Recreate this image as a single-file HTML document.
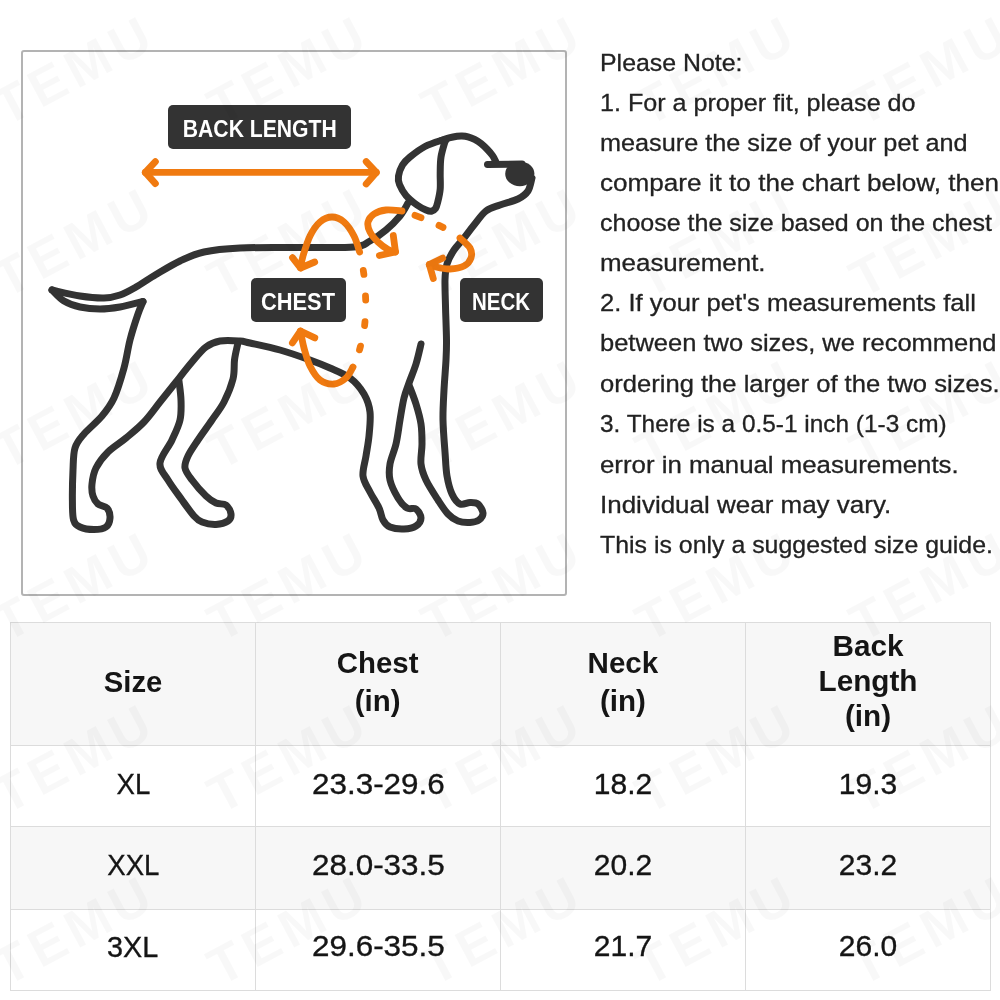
<!DOCTYPE html>
<html>
<head>
<meta charset="utf-8">
<title>Pet Size Guide</title>
<style>
html,body{margin:0;padding:0;background:#fff;}
body{width:1000px;height:1000px;position:relative;overflow:hidden;font-family:"Liberation Sans",sans-serif;color:#222;}
.wm{position:absolute;width:190px;height:54px;line-height:54px;text-align:center;font-weight:bold;font-size:53px;letter-spacing:6px;color:rgba(0,0,0,0.027);transform:rotate(-28deg);transform-origin:50% 50%;white-space:nowrap;z-index:5;pointer-events:none;}
.box{position:absolute;left:21px;top:50px;width:542px;height:542px;border:2px solid #b3b3b3;border-radius:3px;z-index:1;}
.art{position:absolute;left:0;top:0;z-index:2;}
.note{position:absolute;left:0;top:0;z-index:3;filter:grayscale(1);}
.note div{position:absolute;transform-origin:0 50%;left:599.5px;font-size:24.5px;line-height:40px;height:40px;white-space:nowrap;color:#222;-webkit-text-stroke:0.3px #222;}
table.sz{filter:grayscale(1);position:absolute;left:10px;top:622px;border-collapse:collapse;table-layout:fixed;z-index:1;}
table.sz td,table.sz th{border:1.5px solid #dcdcdc;padding:0;text-align:center;vertical-align:middle;font-size:30px;color:#151515;font-weight:normal;-webkit-text-stroke:0.35px #151515;}
table.sz th{-webkit-text-stroke:0;font-weight:bold;font-size:30px;line-height:35px;background:rgba(0,0,0,0.03);}
table.sz tr.alt td{background:rgba(0,0,0,0.03);}
table.sz span{display:inline-block;position:relative;}
</style>
</head>
<body>
<div class="wm" style="left:-20px;top:43px">TEMU</div>
<div class="wm" style="left:194px;top:43px">TEMU</div>
<div class="wm" style="left:408px;top:43px">TEMU</div>
<div class="wm" style="left:622px;top:43px">TEMU</div>
<div class="wm" style="left:836px;top:43px">TEMU</div>
<div class="wm" style="left:-20px;top:215px">TEMU</div>
<div class="wm" style="left:194px;top:215px">TEMU</div>
<div class="wm" style="left:408px;top:215px">TEMU</div>
<div class="wm" style="left:622px;top:215px">TEMU</div>
<div class="wm" style="left:836px;top:215px">TEMU</div>
<div class="wm" style="left:-20px;top:387px">TEMU</div>
<div class="wm" style="left:194px;top:387px">TEMU</div>
<div class="wm" style="left:408px;top:387px">TEMU</div>
<div class="wm" style="left:622px;top:387px">TEMU</div>
<div class="wm" style="left:836px;top:387px">TEMU</div>
<div class="wm" style="left:-20px;top:559px">TEMU</div>
<div class="wm" style="left:194px;top:559px">TEMU</div>
<div class="wm" style="left:408px;top:559px">TEMU</div>
<div class="wm" style="left:622px;top:559px">TEMU</div>
<div class="wm" style="left:836px;top:559px">TEMU</div>
<div class="wm" style="left:-20px;top:731px">TEMU</div>
<div class="wm" style="left:194px;top:731px">TEMU</div>
<div class="wm" style="left:408px;top:731px">TEMU</div>
<div class="wm" style="left:622px;top:731px">TEMU</div>
<div class="wm" style="left:836px;top:731px">TEMU</div>
<div class="wm" style="left:-20px;top:903px">TEMU</div>
<div class="wm" style="left:194px;top:903px">TEMU</div>
<div class="wm" style="left:408px;top:903px">TEMU</div>
<div class="wm" style="left:622px;top:903px">TEMU</div>
<div class="wm" style="left:836px;top:903px">TEMU</div>
<div class="box"></div>
<svg class="art" width="1000" height="1000" viewBox="0 0 1000 1000">
<g fill="none" stroke="#333333" stroke-width="7.0" stroke-linecap="round" stroke-linejoin="round">
<path d="M446.0 140.0 C445.2 140.1 444.5 139.4 441.0 140.5 C437.5 141.6 430.2 143.8 425.0 146.5 C419.8 149.2 413.8 153.9 410.0 157.0 C406.2 160.1 404.4 161.8 402.5 165.0 C400.6 168.2 399.0 172.8 398.5 176.0 C398.0 179.2 398.2 181.3 399.5 184.5 C400.8 187.7 403.1 192.0 406.0 195.4 C408.9 198.8 413.7 202.6 417.0 205.0 C420.3 207.4 423.6 209.0 426.0 210.0 C428.4 211.0 429.8 211.4 431.4 211.2 C433.0 210.9 434.4 210.1 435.5 208.5 C436.6 206.9 437.0 205.1 437.8 201.8 C438.6 198.6 439.8 193.8 440.2 189.0 C440.6 184.2 440.1 178.3 440.2 173.0 C440.3 167.7 440.2 162.2 441.0 157.0 C441.8 151.8 444.3 144.1 445.0 141.5"/>
<path d="M441.0 140.5 C442.3 140.1 446.3 138.5 449.0 137.8 C451.7 137.1 454.8 136.5 457.0 136.2 C459.2 135.9 460.2 135.8 462.0 135.9 C463.8 136.0 465.9 136.2 468.0 136.8 C470.1 137.4 472.4 138.3 474.6 139.4 C476.8 140.5 478.9 141.8 481.0 143.5 C483.1 145.2 485.5 147.5 487.4 149.5 C489.3 151.5 491.1 153.6 492.5 155.5 C493.9 157.4 495.0 160.1 495.5 161.0"/>
<path d="M532.0 178.0 C531.3 180.2 530.3 187.5 528.0 191.0 C525.7 194.5 522.7 196.7 518.0 199.0 C513.3 201.3 505.3 203.0 500.0 205.0 C494.7 207.0 490.3 207.7 486.0 211.0 C481.7 214.3 477.7 220.5 474.0 225.0 C470.3 229.5 467.3 233.8 464.0 238.0 C460.7 242.2 456.8 245.7 454.0 250.0 C451.2 254.3 448.5 259.0 447.0 264.0 C445.5 269.0 445.2 272.3 445.0 280.0 C444.8 287.7 445.4 300.0 445.6 310.0 C445.9 320.0 446.4 331.7 446.5 340.0 C446.6 348.3 446.4 351.7 446.0 360.0 C445.6 368.3 444.5 380.0 444.0 390.0 C443.5 400.0 442.8 409.7 443.0 420.0 C443.2 430.3 444.3 442.7 445.0 452.0 C445.7 461.3 445.8 469.0 447.0 476.0 C448.2 483.0 449.8 489.3 452.0 494.0 C454.2 498.7 457.0 502.6 460.0 504.0 C463.0 505.4 467.0 502.4 470.0 502.4 C473.0 502.4 475.8 502.2 478.0 504.0 C480.2 505.8 482.8 510.3 483.0 513.0 C483.2 515.7 481.2 518.4 479.0 520.0 C476.8 521.6 473.5 522.2 470.0 522.4 C466.5 522.6 461.7 522.4 458.0 521.0 C454.3 519.6 451.3 517.5 448.0 514.0 C444.7 510.5 441.7 505.7 438.0 500.0 C434.3 494.3 428.8 486.0 426.0 480.0 C423.2 474.0 421.7 470.0 421.0 464.0 C420.3 458.0 422.0 450.7 422.0 444.0 C422.0 437.3 422.0 430.7 421.0 424.0 C420.0 417.3 418.0 410.5 416.0 404.0 C414.0 397.5 410.2 388.2 409.0 385.0"/>
<path d="M421.0 344.0 C420.2 347.3 418.0 357.5 416.0 364.0 C414.0 370.5 411.0 377.3 409.0 383.0 C407.0 388.7 405.5 391.8 404.0 398.0 C402.5 404.2 401.3 412.3 400.0 420.0 C398.7 427.7 397.7 436.7 396.0 444.0 C394.3 451.3 391.0 458.0 390.0 464.0 C389.0 470.0 388.7 474.3 390.0 480.0 C391.3 485.7 395.2 493.3 398.0 498.0 C400.8 502.7 404.0 506.2 407.0 508.0 C410.0 509.8 413.7 507.3 416.0 509.0 C418.3 510.7 421.0 515.2 421.0 518.0 C421.0 520.8 418.8 524.2 416.0 526.0 C413.2 527.8 408.3 528.8 404.0 529.0 C399.7 529.2 393.5 528.5 390.0 527.0 C386.5 525.5 384.8 523.2 383.0 520.0 C381.2 516.8 381.2 512.7 379.0 508.0 C376.8 503.3 372.7 497.3 370.0 492.0 C367.3 486.7 363.7 482.0 363.0 476.0 C362.3 470.0 365.0 462.7 366.0 456.0 C367.0 449.3 368.3 443.3 369.0 436.0 C369.7 428.7 370.8 419.0 370.0 412.0 C369.2 405.0 367.3 399.7 364.0 394.0 C360.7 388.3 355.7 382.3 350.0 378.0 C344.3 373.7 336.7 371.0 330.0 368.0 C323.3 365.0 318.3 363.0 310.0 360.0 C301.7 357.0 290.0 352.8 280.0 350.0 C270.0 347.2 256.7 344.5 250.0 343.0 C243.3 341.5 245.0 341.3 240.0 341.0 C235.0 340.7 225.7 340.0 220.0 341.0 C214.3 342.0 210.7 343.5 206.0 347.0 C201.3 350.5 197.0 356.2 192.0 362.0 C187.0 367.8 181.3 375.3 176.0 382.0 C170.7 388.7 165.3 395.3 160.0 402.0 C154.7 408.7 149.7 416.0 144.0 422.0 C138.3 428.0 132.0 433.0 126.0 438.0 C120.0 443.0 113.0 447.0 108.0 452.0 C103.0 457.0 98.7 462.7 96.0 468.0 C93.3 473.3 92.5 479.3 92.0 484.0 C91.5 488.7 92.0 492.7 93.0 496.0 C94.0 499.3 95.7 502.0 98.0 504.0 C100.3 506.0 105.0 505.7 107.0 508.0 C109.0 510.3 110.2 514.8 110.0 518.0 C109.8 521.2 108.7 525.1 106.0 527.0 C103.3 528.9 98.3 529.6 94.0 529.6 C89.7 529.6 83.4 528.6 80.0 527.0 C76.6 525.4 74.9 524.5 73.6 520.0 C72.3 515.5 72.5 508.3 72.4 500.0 C72.3 491.7 72.6 478.7 73.0 470.0 C73.4 461.3 73.2 454.0 75.0 448.0 C76.8 442.0 79.5 439.3 84.0 434.0 C88.5 428.7 97.0 422.0 102.0 416.0 C107.0 410.0 110.3 406.0 114.0 398.0 C117.7 390.0 121.3 377.7 124.0 368.0 C126.7 358.3 127.7 349.0 130.0 340.0 C132.3 331.0 135.8 320.4 138.0 314.0 C140.2 307.6 142.2 303.6 143.0 301.5"/>
<path d="M143.0 301.5 C139.2 302.4 127.2 305.8 120.0 307.0 C112.8 308.2 106.7 309.0 100.0 309.0 C93.3 309.0 86.0 308.3 80.0 307.0 C74.0 305.7 68.7 303.8 64.0 301.0 C59.3 298.2 54.0 291.8 52.0 290.0"/>
<path d="M52.0 290.0 C56.7 291.0 71.3 294.7 80.0 296.0 C88.7 297.3 97.3 298.2 104.0 298.0 C110.7 297.8 114.7 296.8 120.0 295.0 C125.3 293.2 130.0 290.4 136.0 287.0 C142.0 283.6 148.7 278.8 156.0 274.5 C163.3 270.2 172.0 264.8 180.0 261.0 C188.0 257.2 194.0 254.2 204.0 252.0 C214.0 249.8 224.0 248.8 240.0 248.0 C256.0 247.2 281.0 247.7 300.0 247.5 C319.0 247.3 342.3 248.1 354.0 247.0 C365.7 245.9 364.7 243.8 370.0 241.0 C375.3 238.2 381.0 234.2 386.0 230.0 C391.0 225.8 396.3 220.5 400.0 216.0 C403.7 211.5 406.7 205.2 408.0 203.0"/>
<path d="M179.0 381.0 C179.3 384.2 180.8 393.5 181.0 400.0 C181.2 406.5 181.5 413.3 180.0 420.0 C178.5 426.7 175.3 432.8 172.0 440.0 C168.7 447.2 160.7 456.3 160.0 463.0 C159.3 469.7 164.3 473.8 168.0 480.0 C171.7 486.2 177.7 494.0 182.0 500.0 C186.3 506.0 190.7 512.3 194.0 516.0 C197.3 519.7 198.3 520.6 202.0 522.0 C205.7 523.4 211.7 524.6 216.0 524.4 C220.3 524.2 225.5 522.7 228.0 521.0 C230.5 519.3 231.3 516.7 231.0 514.0 C230.7 511.3 228.5 506.8 226.0 505.0 C223.5 503.2 219.3 504.5 216.0 503.0 C212.7 501.5 210.0 499.8 206.0 496.0 C202.0 492.2 195.5 484.7 192.0 480.0 C188.5 475.3 185.7 472.0 185.0 468.0 C184.3 464.0 185.8 460.7 188.0 456.0 C190.2 451.3 194.0 446.0 198.0 440.0 C202.0 434.0 207.7 426.3 212.0 420.0 C216.3 413.7 220.5 408.8 224.0 402.0 C227.5 395.2 231.2 386.0 233.0 379.0 C234.8 372.0 233.8 365.7 234.5 360.0 C235.2 354.3 237.0 347.5 237.5 345.0"/>
<path d="M487.5 164.5 L522.0 164.0"/>
</g>
<ellipse cx="519.8" cy="173.8" rx="14.6" ry="12.4" fill="#333333"/>
<g fill="none" stroke="#f07a10" stroke-width="6.8" stroke-linecap="round" stroke-linejoin="round">
<path d="M359.6 252.0 C358.7 249.3 356.6 241.0 354.0 236.0 C351.4 231.0 347.7 225.2 344.0 222.0 C340.3 218.8 336.0 217.0 332.0 217.0 C328.0 217.0 323.7 218.8 320.0 222.0 C316.3 225.2 312.8 230.3 310.0 236.0 C307.2 241.7 304.6 250.7 303.0 256.0 C301.4 261.3 300.9 266.0 300.5 268.0"/>
<path d="M353.0 367.0 C351.8 368.8 349.2 375.2 346.0 378.0 C342.8 380.8 338.3 383.7 334.0 384.0 C329.7 384.3 324.0 383.0 320.0 380.0 C316.0 377.0 312.7 371.3 310.0 366.0 C307.3 360.7 305.6 353.8 304.0 348.0 C302.4 342.2 301.1 333.8 300.5 331.0"/>
<path d="M402.0 211.0 C399.3 210.8 390.7 209.5 386.0 210.0 C381.3 210.5 377.0 212.0 374.0 214.0 C371.0 216.0 368.7 219.0 368.0 222.0 C367.3 225.0 368.3 228.7 370.0 232.0 C371.7 235.3 375.0 239.1 378.0 242.0 C381.0 244.9 385.1 247.8 388.0 249.5 C390.9 251.2 394.2 251.6 395.5 252.0"/>
<path d="M460.0 238.0 C461.7 239.7 468.2 244.7 470.0 248.0 C471.8 251.3 472.0 255.0 471.0 258.0 C470.0 261.0 467.5 264.2 464.0 266.0 C460.5 267.8 454.7 268.8 450.0 269.0 C445.3 269.2 439.4 267.8 436.0 267.0 C432.6 266.2 430.4 264.9 429.3 264.5"/>
<path d="M145.3 172.4 L376.3 172.4"/>
<path d="M155.4 161.7 L145.3 172.4 L155.4 183.6"/>
<path d="M366.2 161.6 L376.3 172.4 L366.2 183.9"/>
<path d="M292.5 257.6 L300.5 268.0 L314.7 262.0"/>
<path d="M292.4 342.9 L300.5 331.0 L314.8 337.9"/>
<path d="M393.3 235.5 L395.5 252.0 L379.4 255.5"/>
<path d="M442.7 258.1 L429.3 264.5 L433.3 278.6"/>
<path d="M363.3 270.4 L363.9 274.4"/>
<path d="M365.5 295.9 L365.7 300.1"/>
<path d="M365.0 321.6 L364.6 325.6"/>
<path d="M360.5 346.1 L359.5 349.9"/>
<path d="M415.0 215.3 L421.0 217.7"/>
<path d="M439.0 225.4 L443.0 227.4"/>
</g>

<g style="filter:grayscale(1)" font-family="Liberation Sans, sans-serif" font-weight="bold" font-size="23.5" fill="#fff">
<rect x="168" y="105" width="183" height="44" rx="5" fill="#333"/>
<text x="182.8" y="137" textLength="154" lengthAdjust="spacingAndGlyphs">BACK LENGTH</text>
<rect x="251" y="278" width="95" height="44" rx="5" fill="#333"/>
<text x="261" y="309.6" textLength="74" lengthAdjust="spacingAndGlyphs">CHEST</text>
<rect x="460" y="278" width="83" height="44" rx="5" fill="#333"/>
<text x="472" y="309.6" textLength="58" lengthAdjust="spacingAndGlyphs">NECK</text>
</g>

</svg>
<div class="note">
<div style="top:43px;transform:scaleX(1.0157)">Please Note:</div>
<div style="top:83px;transform:scaleX(1.0252)">1. For a proper fit, please do</div>
<div style="top:123px;transform:scaleX(1.0301)">measure the size of your pet and</div>
<div style="top:163px;transform:scaleX(1.0654)">compare it to the chart below, then</div>
<div style="top:203px;transform:scaleX(1.0202)">choose the size based on the chest</div>
<div style="top:243px;transform:scaleX(1.0572)">measurement.</div>
<div style="top:283px;transform:scaleX(1.0437)">2. If your pet's measurements fall</div>
<div style="top:323px;transform:scaleX(1.0400)">between two sizes, we recommend</div>
<div style="top:363.5px;transform:scaleX(1.0442)">ordering the larger of the two sizes.</div>
<div style="top:404px;transform:scaleX(0.9958)">3. There is a 0.5-1 inch (1-3 cm)</div>
<div style="top:445px;transform:scaleX(1.0535)">error in manual measurements.</div>
<div style="top:485px;transform:scaleX(1.0605)">Individual wear may vary.</div>
<div style="top:525px;transform:scaleX(1.0160)">This is only a suggested size guide.</div>
</div>
<table class="sz">
<colgroup><col style="width:245px"><col style="width:245px"><col style="width:245px"><col style="width:245px"></colgroup>
<tr style="height:122.5px"><th><span style="top:-2.4px;transform:scaleX(0.975)">Size</span></th><th><span style="line-height:38px;top:-2px;transform:scaleX(0.98)">Chest<br>(in)</span></th><th><span style="line-height:38px;top:-2px;transform:scaleX(0.985)">Neck<br>(in)</span></th><th><span style="top:-3.4px;transform:scaleX(0.99)">Back<br>Length<br>(in)</span></th></tr>
<tr style="height:81px"><td><span style="top:-1.5px;transform:scaleX(0.92)">XL</span></td><td><span style="top:-1.5px;transform:scaleX(1.048)">23.3-29.6</span></td><td><span style="top:-1.5px">18.2</span></td><td><span style="top:-1.5px">19.3</span></td></tr>
<tr class="alt" style="height:83px"><td><span style="top:-2.6px;transform:scaleX(0.92)">XXL</span></td><td><span style="top:-3px;transform:scaleX(1.048)">28.0-33.5</span></td><td><span style="top:-3px">20.2</span></td><td><span style="top:-3px">23.2</span></td></tr>
<tr style="height:81px"><td><span style="top:-3px;transform:scaleX(0.96)">3XL</span></td><td><span style="top:-3.4px;transform:scaleX(1.048)">29.6-35.5</span></td><td><span style="top:-3.4px">21.7</span></td><td><span style="top:-3.4px">26.0</span></td></tr>
</table>
</body>
</html>
